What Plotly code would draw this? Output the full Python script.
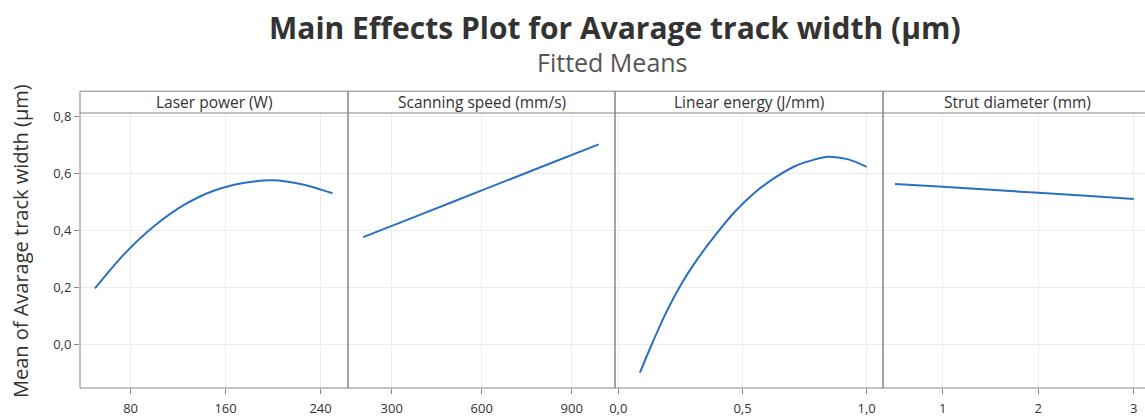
import plotly.graph_objects as go

# Fitted means for each factor
laser_power = [50, 75, 100, 125, 150, 175, 200, 225, 250]
laser_power_mean = [0.196, 0.318, 0.415, 0.489, 0.539, 0.566, 0.576, 0.561, 0.530]

scan_speed = [205, 400, 600, 800, 990]
scan_speed_mean = [0.376, 0.457, 0.540, 0.623, 0.702]

linear_energy = [0.087, 0.134, 0.188, 0.255, 0.322, 0.389, 0.470, 0.550, 0.631,
                 0.711, 0.792, 0.845, 0.926, 1.0]
linear_energy_mean = [-0.100, -0.002, 0.103, 0.213, 0.303, 0.381, 0.466, 0.533, 0.585,
                      0.625, 0.649, 0.658, 0.649, 0.623]

strut_diameter = [0.5, 1.0, 1.5, 2.0, 2.5, 3.0]
strut_diameter_mean = [0.563, 0.553, 0.542, 0.532, 0.521, 0.510]

factor_names = ["Laser power (W)", "Scanning speed (mm/s)",
                "Linear energy (J/mm)", "Strut diameter (mm)"]
x_tick_values = [[80, 160, 240], [300, 600, 900], [0.0, 0.5, 1.0], [1, 2, 3]]
y_tick_values = [0.0, 0.2, 0.4, 0.6, 0.8]

title_text = "Main Effects Plot for Avarage track width (µm)"
subtitle_text = "Fitted Means"
y_title_text = "Mean of Avarage track width (µm)"

# Page geometry (pixels)
W, H = 1145, 417
ML, MT, MB = 80, 113, 27
plot_w = W - ML
plot_h = H - MT - MB
panel_px = [80, 348, 615, 883, 1145]
header_top_px = 91

x_ranges = [[37.4, 263.1], [154.3, 1044.3], [-0.0133, 1.0657], [0.375, 3.117]]
y_range = [-0.154, 0.812]

series = [(laser_power, laser_power_mean), (scan_speed, scan_speed_mean),
          (linear_energy, linear_energy_mean), (strut_diameter, strut_diameter_mean)]

FONT = "Open Sans, Noto Sans, sans-serif"
BORDER = "#858585"
GRID = "#ececec"
LINE = "#2b6fc0"
TEXT = "#333333"


def px_to_paper_x(px):
    return (px - ML) / plot_w


def px_to_paper_y(py):
    return 1 + (MT - py) / plot_h


fig = go.Figure()

for i, (xs, ys) in enumerate(series):
    suffix = "" if i == 0 else str(i + 1)
    fig.add_trace(go.Scatter(
        x=xs, y=ys, mode="lines",
        line=dict(color=LINE, width=2, shape="spline", smoothing=0.8),
        xaxis="x" + suffix, yaxis="y", showlegend=False, hoverinfo="x+y",
    ))
    fmt = ".1f" if i == 2 else "d"
    fig.layout["xaxis" + suffix] = dict(
        domain=[px_to_paper_x(panel_px[i]), px_to_paper_x(panel_px[i + 1])],
        range=x_ranges[i], anchor="y",
        tickvals=x_tick_values[i], tickformat=fmt,
        ticks="outside", ticklen=5, tickcolor=BORDER, tickwidth=1,
        ticklabelstandoff=3,
        showgrid=True, gridcolor=GRID, gridwidth=1,
        showline=False, zeroline=False,
        tickfont=dict(family=FONT, size=13, color=TEXT),
    )

fig.update_layout(
    yaxis=dict(
        domain=[0, 1], range=y_range, anchor="x",
        tickvals=y_tick_values, tickformat=".1f",
        ticks="outside", ticklen=5, tickcolor=BORDER, tickwidth=1,
        showgrid=True, gridcolor=GRID, gridwidth=1,
        showline=False, zeroline=False,
        tickfont=dict(family=FONT, size=13, color=TEXT),
    ),
)

shapes = []
annotations = []
header_top = px_to_paper_y(header_top_px)
for i, name in enumerate(factor_names):
    x0 = px_to_paper_x(panel_px[i])
    x1 = px_to_paper_x(panel_px[i + 1]) if i < 3 else 1.02
    # Panel frame including its strip header
    shapes.append(dict(type="rect", xref="paper", yref="paper",
                       x0=x0, x1=x1, y0=0, y1=header_top,
                       line=dict(color=BORDER, width=1), fillcolor="rgba(0,0,0,0)"))
    # Line separating the strip header from the plotting area
    shapes.append(dict(type="line", xref="paper", yref="paper",
                       x0=x0, x1=x1, y0=1, y1=1,
                       line=dict(color=BORDER, width=1)))
    cx = (panel_px[i] + panel_px[i + 1]) / 2 if i < 3 else (panel_px[i] + 1151) / 2
    annotations.append(dict(
        text=name, xref="paper", yref="paper",
        x=px_to_paper_x(cx), y=px_to_paper_y(102),
        xanchor="center", yanchor="middle", showarrow=False,
        font=dict(family=FONT, size=15.5, color=TEXT),
    ))

annotations.append(dict(
    text="<b>" + title_text + "</b>", xref="paper", yref="paper",
    x=px_to_paper_x(615), y=px_to_paper_y(27),
    xanchor="center", yanchor="middle", showarrow=False,
    font=dict(family=FONT, size=30, color=TEXT),
))
annotations.append(dict(
    text=subtitle_text, xref="paper", yref="paper",
    x=px_to_paper_x(612), y=px_to_paper_y(62),
    xanchor="center", yanchor="middle", showarrow=False,
    font=dict(family=FONT, size=25, color="#555555"),
))
annotations.append(dict(
    text=y_title_text, xref="paper", yref="paper",
    x=px_to_paper_x(20), y=px_to_paper_y(242),
    xanchor="center", yanchor="middle", showarrow=False, textangle=-90,
    font=dict(family=FONT, size=20, color=TEXT),
))

fig.update_layout(
    width=W, height=H,
    margin=dict(l=ML, r=0, t=MT, b=MB, pad=0),
    paper_bgcolor="white", plot_bgcolor="white",
    separators=",.",
    shapes=shapes, annotations=annotations,
    font=dict(family=FONT, color=TEXT),
)

fig.write_html("out.html")
